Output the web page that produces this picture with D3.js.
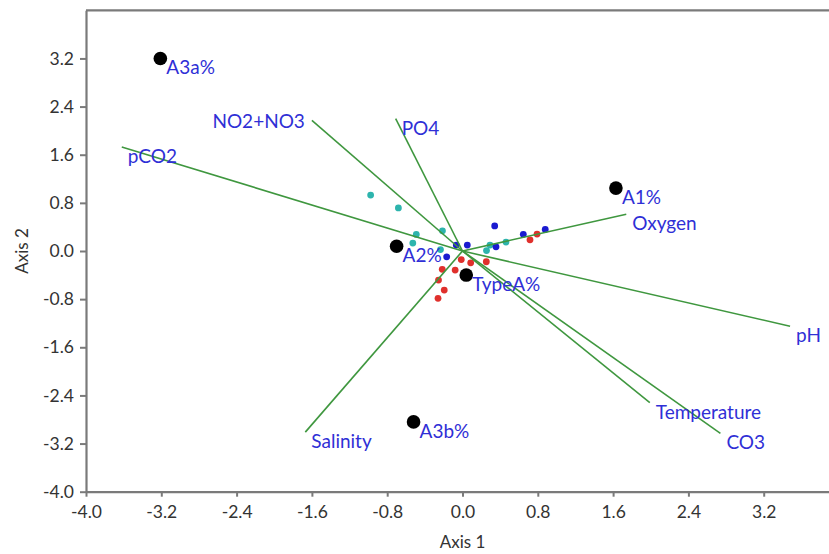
<!DOCTYPE html>
<html>
<head>
<meta charset="utf-8">
<script src="https://cdn.jsdelivr.net/npm/d3@7/dist/d3.min.js"></script>
<style>
  html, body { margin: 0; padding: 0; background: #fff; }
  svg { display: block; }
</style>
</head>
<body>
<svg id="chart" width="829" height="554"></svg>
<script>
// Ordination biplot: environmental vectors, sample scores and group scores

const xTicks = [-4.0, -3.2, -2.4, -1.6, -0.8, 0.0, 0.8, 1.6, 2.4, 3.2];
const yTicks = [-4.0, -3.2, -2.4, -1.6, -0.8, 0.0, 0.8, 1.6, 2.4, 3.2];

// environmental vectors (Axis 1, Axis 2 end points)
const vectorNames = ["pCO2", "NO2+NO3", "PO4", "Oxygen", "pH", "Temperature", "CO3", "Salinity"];
const vectorX = [-3.62, -1.60, -0.71, 1.74, 3.48, 1.99, 2.74, -1.67];
const vectorY = [1.73, 2.17, 2.20, 0.61, -1.25, -2.52, -3.03, -3.01];

// group centroid scores
const groupNames = ["A3a%", "A1%", "A2%", "TypeA%", "A3b%"];
const groupX = [-3.21, 1.63, -0.70, 0.04, -0.52];
const groupY = [3.20, 1.045, 0.08, -0.40, -2.84];

// sample scores, three sample sets
const cyanX = [-0.976, -0.681, -0.491, -0.528, -0.213, -0.234, 0.255, 0.292, 0.462];
const cyanY = [0.929, 0.716, 0.276, 0.131, 0.336, 0.023, 0.007, 0.098, 0.148];
const blueX = [0.342, 0.646, 0.879, 0.356, -0.066, 0.051, -0.168];
const blueY = [0.417, 0.277, 0.359, 0.070, 0.098, 0.098, -0.096];
const redX = [0.792, 0.717, -0.013, 0.087, 0.253, -0.215, -0.078, -0.255, -0.194, -0.260];
const redY = [0.281, 0.186, -0.143, -0.196, -0.179, -0.304, -0.317, -0.483, -0.650, -0.787];

const svg = d3.select("#chart");
const W = 829, H = 554;

const x = d3.scaleLinear().domain([-4, 4]).range([86, 839]);
const y = d3.scaleLinear().domain([-4, 4]).range([491.7, 10.3]);

const fmt = d => (Math.abs(d) < 1e-9 ? 0 : d).toFixed(1);
const axisColor = "#7a7a7a";
const tickTextColor = "#333333";
const labelFont = "Lato, 'Open Sans', sans-serif";
const labelColor = "#2f2fd6";

// top frame line
svg.append("line")
  .attr("x1", x(-4)).attr("x2", W)
  .attr("y1", y(4)).attr("y2", y(4))
  .attr("stroke", axisColor).attr("stroke-width", 2.2);

// x axis
const gx = svg.append("g")
  .attr("transform", `translate(0,${y(-4)})`)
  .call(d3.axisBottom(x).tickValues(xTicks).tickFormat(fmt).tickSizeOuter(0).tickSizeInner(5).tickPadding(9));

// y axis
const gy = svg.append("g")
  .attr("transform", `translate(${x(-4)},0)`)
  .call(d3.axisLeft(y).tickValues(yTicks).tickFormat(fmt).tickSizeOuter(0).tickSizeInner(6).tickPadding(6));

[gx, gy].forEach(g => {
  g.select(".domain").attr("stroke", axisColor).attr("stroke-width", 2.2);
  g.selectAll(".tick line").attr("stroke", axisColor).attr("stroke-width", 2);
  g.selectAll(".tick text")
    .attr("fill", tickTextColor)
    .style("font-family", labelFont)
    .style("font-size", "17.5px");
});

// axis titles
svg.append("text")
  .attr("x", x(0)).attr("y", 541)
  .attr("text-anchor", "middle").attr("dominant-baseline", "central")
  .attr("fill", tickTextColor)
  .style("font-family", labelFont).style("font-size", "17px")
  .text("Axis 1");

svg.append("text")
  .attr("transform", `translate(21,${y(0)}) rotate(-90)`)
  .attr("text-anchor", "middle").attr("dominant-baseline", "central")
  .attr("fill", tickTextColor)
  .style("font-family", labelFont).style("font-size", "17px")
  .text("Axis 2");

// sample points
const samples = [
  { xs: cyanX, ys: cyanY, color: "#2db4ad" },
  { xs: blueX, ys: blueY, color: "#1a1ad0" },
  { xs: redX, ys: redY, color: "#e0302c" }
];
samples.forEach(s => {
  svg.append("g").selectAll("circle")
    .data(s.xs.map((v, i) => [v, s.ys[i]]))
    .join("circle")
    .attr("cx", d => x(d[0]))
    .attr("cy", d => y(d[1]))
    .attr("r", 3.4)
    .attr("fill", s.color);
});

// environmental vectors from the origin
const vectors = vectorNames.map((n, i) => ({ name: n, vx: vectorX[i], vy: vectorY[i] }));
svg.append("g").selectAll("line")
  .data(vectors)
  .join("line")
  .attr("x1", x(0)).attr("y1", y(0))
  .attr("x2", d => x(d.vx)).attr("y2", d => y(d.vy))
  .attr("stroke", "#3f973f")
  .attr("stroke-width", 1.6);

// labels placed to the left of the vector tip
const leftLabels = new Set(["NO2+NO3"]);
svg.append("g").selectAll("text")
  .data(vectors)
  .join("text")
  .attr("x", d => leftLabels.has(d.name) ? x(d.vx) - 7 : x(d.vx) + 6)
  .attr("y", d => leftLabels.has(d.name) ? y(d.vy) : y(d.vy) + 8.5)
  .attr("text-anchor", d => leftLabels.has(d.name) ? "end" : "start")
  .attr("dominant-baseline", "central")
  .attr("fill", labelColor)
  .style("font-family", labelFont).style("font-size", "19px")
  .text(d => d.name);

// group centroids
const groups = groupNames.map((n, i) => ({ name: n, gx: groupX[i], gy: groupY[i] }));
svg.append("g").selectAll("circle")
  .data(groups)
  .join("circle")
  .attr("cx", d => x(d.gx)).attr("cy", d => y(d.gy))
  .attr("r", 6.8)
  .attr("fill", "#000");

svg.append("g").selectAll("text")
  .data(groups)
  .join("text")
  .attr("x", d => x(d.gx) + 6)
  .attr("y", d => y(d.gy) + 8.5)
  .attr("dominant-baseline", "central")
  .attr("fill", labelColor)
  .style("font-family", labelFont).style("font-size", "19px")
  .text(d => d.name);
</script>
</body>
</html>
